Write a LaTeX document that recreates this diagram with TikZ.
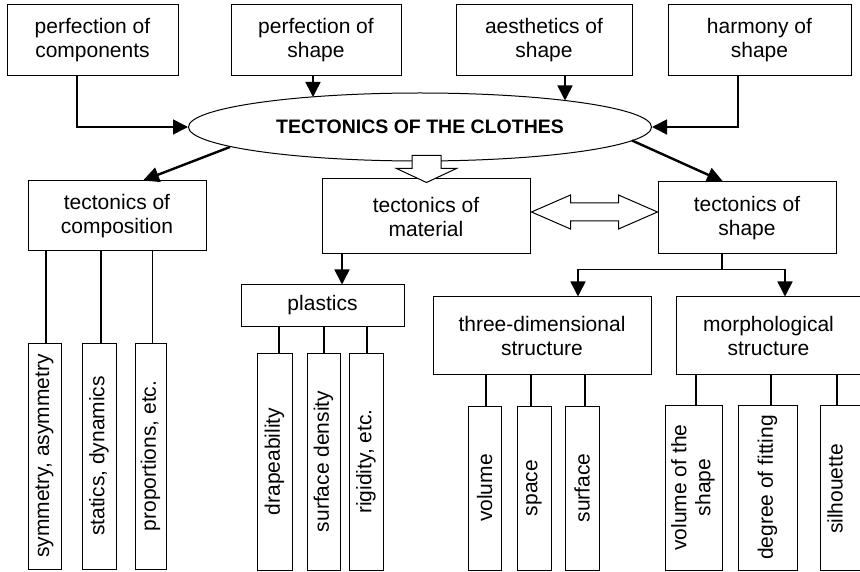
\documentclass[tikz,border=0pt]{standalone}
\usepackage{fontspec}
\setmainfont{Liberation Sans}
\usepackage{graphicx}
\usetikzlibrary{arrows.meta,shapes.geometric,calc}
\begin{document}
\begin{tikzpicture}[x=1pt,y=-1pt,
  box/.style={draw,line width=1pt,rectangle,inner sep=0pt,align=center,
    font=\fontsize{21}{24}\selectfont},
  link/.style={line width=1.6pt},
  arr/.style={line width=1.6pt,-{Triangle[length=15pt,width=15pt]}},
  darr/.style={line width=2.4pt,-{Triangle[length=16pt,width=15pt]}},
  hollow/.style={draw,line width=1pt,fill=white,line join=miter}
]
\useasboundingbox (0,0) rectangle (860,572);

% central ellipse
\node[draw,ellipse,line width=1pt,minimum width=463pt,minimum height=68pt,inner sep=0pt,
  font=\fontsize{19.5}{22}\selectfont\bfseries] (el) at (420,127) {TECTONICS OF THE CLOTHES};

% points on the ellipse outline where the connectors meet it
\coordinate (eps) at ($(el.center)+(-107,-30)$);
\coordinate (eas) at ($(el.center)+(145,-26.5)$);
\coordinate (etc) at ($(el.center)+(-190,20)$);
\coordinate (ets) at ($(el.center)+(212,13.5)$);

% top row
\node[box,minimum width=171pt,minimum height=71pt] (pc) at (92.5,40.5) {perfection of\\components};
\node[box,minimum width=170pt,minimum height=71pt] (ps) at (316,40.5) {perfection of\\shape};
\node[box,minimum width=176pt,minimum height=71pt] (as) at (544,40.5) {aesthetics of\\shape};
\node[box,minimum width=183pt,minimum height=71pt] (hs) at (759.5,40.5) {harmony of\\shape};

% second row
\node[box,minimum width=178pt,minimum height=70pt] (tc) at (117,216) {tectonics of\\composition};
\node[box,minimum width=208pt,minimum height=75pt] (tm) at (426,216.5) {tectonics of\\material};
\node[box,minimum width=178pt,minimum height=72pt] (ts) at (747,218) {tectonics of\\shape};

% third row
\node[box,minimum width=163pt,minimum height=41pt] (pl) at (322.5,305.5) {plastics};
\node[box,minimum width=218pt,minimum height=77pt] (td) at (542,335.5) {three-dimensional\\structure};
\node[box,minimum width=185pt,minimum height=77pt] (mo) at (768.5,335.5) {morphological\\structure};

% vertical boxes
\node[box,minimum width=33pt,minimum height=226pt] (c1) at (44.5,456) {\rotatebox{90}{symmetry, asymmetry}};
\node[box,minimum width=34pt,minimum height=226pt] (c2) at (99,456) {\rotatebox{90}{statics, dynamics}};
\node[box,minimum width=31pt,minimum height=226pt] (c3) at (150.5,456) {\rotatebox{90}{proportions, etc.}};

\node[box,minimum width=35pt,minimum height=217pt] (p1) at (274.5,461.5) {\rotatebox{90}{drapeability}};
\node[box,minimum width=33pt,minimum height=217pt] (p2) at (323.5,461.5) {\rotatebox{90}{surface density}};
\node[box,minimum width=34pt,minimum height=217pt] (p3) at (366,461.5) {\rotatebox{90}{rigidity, etc.}};

\node[box,minimum width=33pt,minimum height=164pt] (d1) at (484.5,488) {\rotatebox{90}{volume}};
\node[box,minimum width=34pt,minimum height=164pt] (d2) at (534,488) {\rotatebox{90}{space}};
\node[box,minimum width=34pt,minimum height=164pt] (d3) at (582,488) {\rotatebox{90}{surface}};

\node[box,minimum width=57pt,minimum height=165pt] (m1) at (693.5,487.5)
  {\rotatebox{90}{\begin{tabular}{@{}c@{}}volume of the\\shape\end{tabular}}};
\node[box,minimum width=59pt,minimum height=165pt] (m2) at (767.5,487.5) {\rotatebox{90}{degree of fitting}};
\node[box,minimum width=50pt,minimum height=165pt] (m3) at (845,487.5) {};
\node[font=\fontsize{21}{24}\selectfont,inner sep=0pt] (m3t) at (835,489) {\rotatebox{90}{silhouette}};

% inputs into the ellipse
\draw[arr] ([xshift=-15.5pt]pc.south) |- (el.west);
\draw[arr] (eps |- ps.south) -- (eps);
\draw[arr] (eas |- as.south) -- (eas);
\draw[arr] ([xshift=-21.5pt]hs.south) |- (el.east);

% outputs of the ellipse
\draw[darr] (etc) -- ([xshift=26pt]tc.north);
\draw[darr] (ets) -- ([xshift=-24pt]ts.north);

% hollow arrow down to the material box
\path (el.south) ++(6.5,-6) coordinate (ht);
\draw[hollow] ($(ht)+(-14.5,0)$) -- ($(ht)+(-14.5,13)$) -- ($(ht)+(-30,13)$) -- ($(ht)+(0,27)$)
  -- ($(ht)+(30,13)$) -- ($(ht)+(14.5,13)$) -- ($(ht)+(14.5,0)$) -- cycle;

% hollow double arrow between material and shape
\path (tm.east) ++(1,-4.5) coordinate (dl);
\path (ts.west) ++(0,-6) coordinate (dr);
\draw[hollow] (dl) -- ($(dl)+(39,-17)$) -- ($(dl)+(39,-9)$) -- ($(dr)+(-39,-9)$) -- ($(dr)+(-39,-17)$)
  -- (dr) -- ($(dr)+(-39,17)$) -- ($(dr)+(-39,9)$) -- ($(dl)+(39,9)$) -- ($(dl)+(39,17)$) -- cycle;

% material -> plastics
\draw[arr] ([xshift=19.5pt]pl.north |- tm.south) -- ([xshift=19.5pt]pl.north);

% shape -> two structures
\draw[link] ([xshift=-25pt]ts.south) -- ++(0,15) coordinate (jt);
\draw[arr] (jt) -| ([xshift=36pt]td.north);
\draw[arr] (jt) -| ([xshift=16.5pt]mo.north);

% plain links to the vertical boxes
\foreach \n/\dx in {c1/1.5,c2/2,c3/2}
  \draw[link] ([xshift=\dx pt]\n.north) -- ([xshift=\dx pt]\n.north |- tc.south);
\foreach \n/\dx in {p1/4.5,p2/0.5,p3/1}
  \draw[link] ([xshift=\dx pt]\n.north) -- ([xshift=\dx pt]\n.north |- pl.south);
\foreach \n/\dx in {d1/1.5,d2/-3,d3/3}
  \draw[link] ([xshift=\dx pt]\n.north) -- ([xshift=\dx pt]\n.north |- td.south);
\foreach \n/\dx in {m1/2.5,m2/3.5,m3/-8}
  \draw[link] ([xshift=\dx pt]\n.north) -- ([xshift=\dx pt]\n.north |- mo.south);
\end{tikzpicture}
\end{document}
